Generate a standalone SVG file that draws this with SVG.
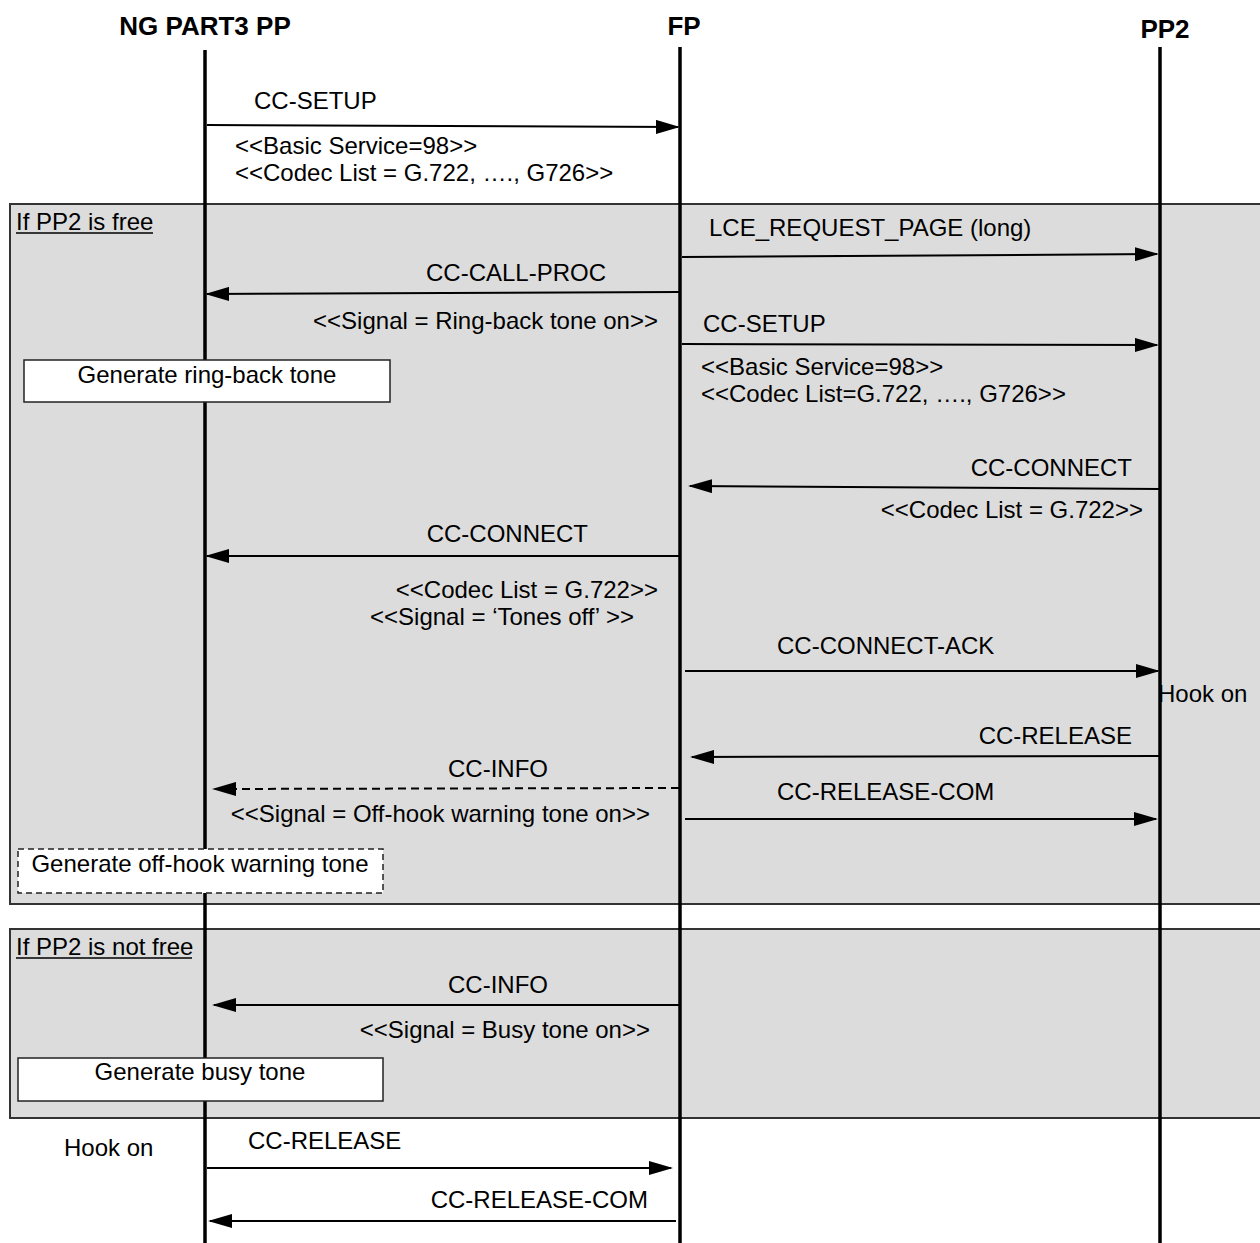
<svg xmlns="http://www.w3.org/2000/svg" width="1260" height="1243" viewBox="0 0 1260 1243">
<style>
text{font-family:"Liberation Sans",Arial,sans-serif;font-size:24px;fill:#000}
.hdr{font-size:26px;font-weight:bold}
.mid{text-anchor:middle}
.end{text-anchor:end}
.life{stroke:#000;stroke-width:3.5;fill:none}
.msg{stroke:#000;stroke-width:2;fill:none}
.dash{stroke-dasharray:8 5}
.region{fill:#dcdcdc;stroke:#333;stroke-width:2}
.box{fill:#fff;stroke:#222;stroke-width:1.5}
.dbox{fill:#fff;stroke:#222;stroke-width:1.5;stroke-dasharray:6 4}
.ul{stroke:#000;stroke-width:1.5}
</style>
<defs>
<marker id="ah" markerUnits="userSpaceOnUse" markerWidth="24" markerHeight="14" refX="22" refY="7" orient="auto">
<path d="M0,0 L24,7 L0,14 Z" fill="#000"/>
</marker>
</defs>

<g id="regions">
<g id="alt-free">
<rect class="region" x="10" y="204" width="1260" height="700"/>
<text x="16" y="230">If PP2 is free</text>
<line class="ul" x1="16" y1="233" x2="153" y2="233"/>
</g>
<g id="alt-notfree">
<rect class="region" x="10" y="929" width="1260" height="189"/>
<text x="16" y="955">If PP2 is not free</text>
<line class="ul" x1="16" y1="958" x2="192" y2="958"/>
</g>
</g>

<g id="lifelines">
<g id="pp"><text class="hdr mid" x="205" y="35">NG PART3 PP</text><line class="life" x1="205" y1="50" x2="205" y2="1243"/></g>
<g id="fp"><text class="hdr mid" x="684" y="35">FP</text><line class="life" x1="680" y1="47" x2="680" y2="1243"/></g>
<g id="pp2"><text class="hdr mid" x="1165" y="38">PP2</text><line class="life" x1="1160" y1="47" x2="1160" y2="1243"/></g>
</g>

<g id="connectors">
<line class="msg" x1="207" y1="125" x2="678" y2="127" marker-end="url(#ah)"/>
<line class="msg" x1="682" y1="257" x2="1157" y2="254" marker-end="url(#ah)"/>
<line class="msg" x1="679" y1="292" x2="207" y2="294" marker-end="url(#ah)"/>
<line class="msg" x1="682" y1="344" x2="1157" y2="345" marker-end="url(#ah)"/>
<line class="msg" x1="1159" y1="489" x2="690" y2="486" marker-end="url(#ah)"/>
<line class="msg" x1="679" y1="556" x2="207" y2="556" marker-end="url(#ah)"/>
<line class="msg" x1="685" y1="671" x2="1158" y2="671" marker-end="url(#ah)"/>
<line class="msg" x1="1159" y1="756" x2="692" y2="757" marker-end="url(#ah)"/>
<line class="msg dash" x1="679" y1="788" x2="214" y2="789" marker-end="url(#ah)"/>
<line class="msg" x1="685" y1="819" x2="1156" y2="819" marker-end="url(#ah)"/>
<line class="msg" x1="679" y1="1005" x2="214" y2="1005" marker-end="url(#ah)"/>
<line class="msg" x1="207" y1="1168" x2="671" y2="1168" marker-end="url(#ah)"/>
<line class="msg" x1="676" y1="1221" x2="210" y2="1221" marker-end="url(#ah)"/>
</g>

<g id="labels">
<text x="254" y="109">CC-SETUP</text>
<text x="235" y="154">&lt;&lt;Basic Service=98&gt;&gt;</text>
<text x="235" y="181">&lt;&lt;Codec List = G.722, …., G726&gt;&gt;</text>
<text x="709" y="236">LCE_REQUEST_PAGE (long)</text>
<text class="end" x="606" y="281">CC-CALL-PROC</text>
<text class="end" x="658" y="329">&lt;&lt;Signal = Ring-back tone on&gt;&gt;</text>
<text x="703" y="332">CC-SETUP</text>
<text x="701" y="375">&lt;&lt;Basic Service=98&gt;&gt;</text>
<text x="701" y="402">&lt;&lt;Codec List=G.722, …., G726&gt;&gt;</text>
<text class="end" x="1132" y="476">CC-CONNECT</text>
<text class="end" x="1143" y="518">&lt;&lt;Codec List = G.722&gt;&gt;</text>
<text class="end" x="588" y="542">CC-CONNECT</text>
<text class="end" x="658" y="598">&lt;&lt;Codec List = G.722&gt;&gt;</text>
<text class="end" x="634" y="625">&lt;&lt;Signal = ‘Tones off’ &gt;&gt;</text>
<text x="777" y="654">CC-CONNECT-ACK</text>
<text x="1158" y="702">Hook on</text>
<text class="end" x="1132" y="744">CC-RELEASE</text>
<text class="end" x="548" y="777">CC-INFO</text>
<text class="end" x="650" y="822">&lt;&lt;Signal = Off-hook warning tone on&gt;&gt;</text>
<text x="777" y="800">CC-RELEASE-COM</text>
<text class="end" x="548" y="993">CC-INFO</text>
<text class="end" x="650" y="1038">&lt;&lt;Signal = Busy tone on&gt;&gt;</text>
<text x="64" y="1156">Hook on</text>
<text x="248" y="1149">CC-RELEASE</text>
<text class="end" x="648" y="1208">CC-RELEASE-COM</text>
</g>

<g id="ringback-box">
<rect class="box" x="24" y="360" width="366" height="42"/>
<text class="mid" x="207" y="383">Generate ring-back tone</text>
</g>
<g id="offhook-box">
<rect class="dbox" x="18" y="849" width="365" height="44"/>
<text class="mid" x="200" y="872">Generate off-hook warning tone</text>
</g>
<g id="busy-box">
<rect class="box" x="18" y="1058" width="365" height="43"/>
<text class="mid" x="200" y="1080">Generate busy tone</text>
</g>
</svg>
